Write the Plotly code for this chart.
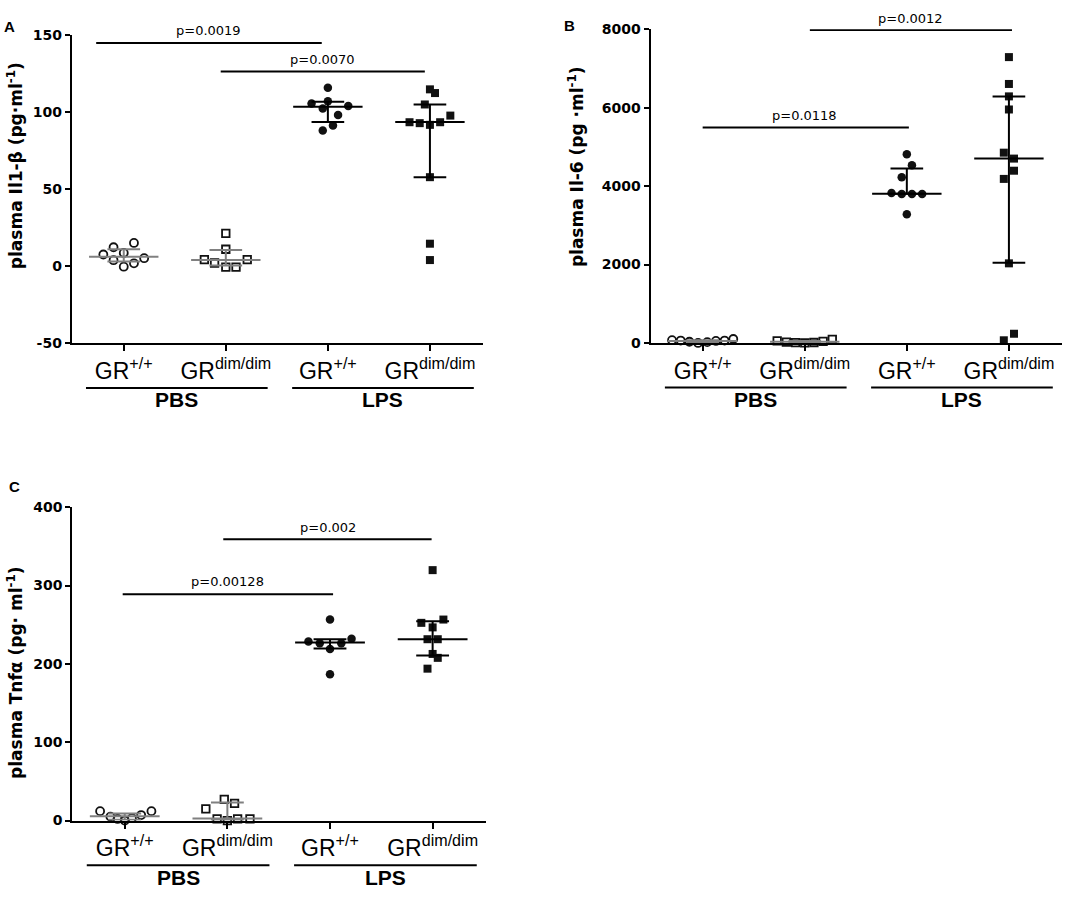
import plotly.graph_objects as go

W, H = 1084, 897

# categories on every panel
cats = [0, 1, 2, 3]
cat_labels = ["GR<sup>+/+</sup>", "GR<sup>dim/dim</sup>", "GR<sup>+/+</sup>", "GR<sup>dim/dim</sup>"]
treatments = ["PBS", "LPS"]

# panel A - plasma Il1-beta (pg/ml)
il1b_pbs_wt = [7.6, 12.3, 3.9, 8.6, -0.3, 15.1, 1.9, 5.2]
il1b_pbs_wt_jit = [-0.2, -0.1, -0.1, 0, 0, 0.1, 0.1, 0.2]
il1b_pbs_dim = [21.3, 11.0, 4.3, 2.1, -0.6, -0.6, 4.3]
il1b_pbs_dim_jit = [0, 0, -0.21, -0.11, 0, 0.1, 0.21]
il1b_lps_wt = [115.6, 105.4, 106.9, 102.2, 103.8, 98.0, 91.2, 88.0]
il1b_lps_wt_jit = [0, -0.16, 0, -0.05, 0.2, 0.1, 0.05, -0.05]
il1b_lps_dim = [114.6, 112.2, 104.8, 93.3, 92.7, 91.6, 93.3, 97.6, 57.7, 14.6, 4.0]
il1b_lps_dim_jit = [0, 0.05, -0.05, -0.2, -0.1, 0, 0.1, 0.2, 0, 0, 0]
il1b_median = [6.2, 4.0, 103.3, 93.5]
il1b_q1 = [3.0, 0.5, 93.5, 57.7]
il1b_q3 = [11.0, 10.5, 106.5, 104.8]
il1b_ticks = [-50, 0, 50, 100, 150]

# panel B - plasma Il-6 (pg/ml)
il6_pbs_wt = [70, 60, 30, 0, 20, 50, 60, 100]
il6_pbs_wt_jit = [-0.3, -0.215, -0.13, -0.045, 0.045, 0.13, 0.215, 0.3]
il6_pbs_dim = [50, 20, 5, 0, 10, 40, 90]
il6_pbs_dim_jit = [-0.27, -0.18, -0.09, 0, 0.09, 0.18, 0.27]
il6_lps_wt = [4811, 4535, 4226, 3825, 3800, 3800, 3800, 3282]
il6_lps_wt_jit = [0, 0.05, -0.05, -0.15, -0.05, 0.05, 0.15, 0]
il6_lps_dim = [7291, 6606, 6289, 5955, 4853, 4702, 4393, 4184, 2030, 234, 67]
il6_lps_dim_jit = [0, 0, 0, 0, -0.05, 0.05, 0.05, -0.05, 0, 0.05, -0.05]
il6_median = [50, 30, 3808, 4702]
il6_q1 = [20, 5, 3808, 2046]
il6_q3 = [65, 50, 4452, 6289]
il6_ticks = [0, 2000, 4000, 6000, 8000]

# panel C - plasma Tnf-alpha (pg/ml)
tnf_pbs_wt = [12, 5, 2, 0, 3, 7, 12]
tnf_pbs_wt_jit = [-0.24, -0.14, -0.07, 0, 0.07, 0.16, 0.26]
tnf_pbs_dim = [15, 27, 22, 2, 0, 2, 2]
tnf_pbs_dim_jit = [-0.21, -0.03, 0.07, -0.1, 0, 0.1, 0.22]
tnf_lps_wt = [256.6, 228.6, 226.5, 226.5, 232.0, 219.0, 186.8]
tnf_lps_wt_jit = [0, -0.21, -0.1, 0.11, 0.21, 0, 0]
tnf_lps_dim = [319.7, 252.4, 256.6, 246.6, 231.5, 231.5, 212.7, 207.7, 193.9]
tnf_lps_dim_jit = [0, -0.11, 0.105, 0, -0.05, 0.05, 0, 0.05, -0.05]
tnf_median = [5.5, 2.5, 227.3, 231.5]
tnf_q1 = [1.0, 1.0, 219.8, 210.6]
tnf_q3 = [9.0, 23.0, 231.5, 254.5]
tnf_ticks = [0, 100, 200, 300, 400]

# significance brackets: (x0, x1, y, label)
il1b_pvals = [(-0.27, 1.94, 144.7, "p=0.0019"), (0.95, 2.95, 126.2, "p=0.0070")]
il6_pvals = [(0.0, 2.02, 5496, "p=0.0118"), (1.05, 3.03, 7985, "p=0.0012")]
tnf_pvals = [(-0.02, 2.03, 289, "p=0.00128"), (0.96, 2.99, 359, "p=0.002")]
# where the p labels sit: (x in category units, y in page pixels)
il1b_ptext = [(0.83, 23), (1.95, 52)]
il6_ptext = [(1.0, 109), (2.04, 11)]
tnf_ptext = [(1.0, 584), (1.98, 529)]

BOLD = "DejaVu Sans"
SANS = "Liberation Sans"
GRAY = "#808080"


def px_x(px):
    return px / W


def px_y(py):
    return 1 - py / H


fig = go.Figure()


def add_panel(n, groups, med, q1, q3):
    xa = "x" if n == 1 else f"x{n}"
    ya = "y" if n == 1 else f"y{n}"
    symbols = ["circle-open", "square-open", "circle", "square"]
    sizes = [8, 7.5, 8.5, 8]
    for g, (vals, jit) in enumerate(groups):
        fig.add_trace(go.Scatter(
            x=[g + j for j in jit], y=vals, mode="markers", xaxis=xa, yaxis=ya,
            marker=dict(symbol=symbols[g], size=sizes[g], color="#111111",
                        line=dict(width=1.8 if g < 2 else 0, color="#111111")),
            cliponaxis=False, hoverinfo="y"))
    # median line + interquartile bar
    for g in cats:
        col = GRAY if g < 2 else "black"
        fig.add_trace(go.Scatter(
            x=[g - 0.34, g + 0.34, None, g - 0.16, g + 0.16, None, g - 0.16, g + 0.16, None, g, g],
            y=[med[g], med[g], None, q3[g], q3[g], None, q1[g], q1[g], None, q1[g], q3[g]],
            mode="lines", xaxis=xa, yaxis=ya, line=dict(color=col, width=2),
            cliponaxis=False, hoverinfo="skip"))


add_panel(1, [(il1b_pbs_wt, il1b_pbs_wt_jit), (il1b_pbs_dim, il1b_pbs_dim_jit),
              (il1b_lps_wt, il1b_lps_wt_jit), (il1b_lps_dim, il1b_lps_dim_jit)],
          il1b_median, il1b_q1, il1b_q3)
add_panel(2, [(il6_pbs_wt, il6_pbs_wt_jit), (il6_pbs_dim, il6_pbs_dim_jit),
              (il6_lps_wt, il6_lps_wt_jit), (il6_lps_dim, il6_lps_dim_jit)],
          il6_median, il6_q1, il6_q3)
add_panel(3, [(tnf_pbs_wt, tnf_pbs_wt_jit), (tnf_pbs_dim, tnf_pbs_dim_jit),
              (tnf_lps_wt, tnf_lps_wt_jit), (tnf_lps_dim, tnf_lps_dim_jit)],
          tnf_median, tnf_q1, tnf_q3)


def x_axis(dom, anchor):
    return dict(domain=dom, anchor=anchor, range=[-0.51, 3.52], showgrid=False, zeroline=False,
                showline=True, linecolor="black", linewidth=2, ticks="outside", ticklen=6,
                tickwidth=2, tickcolor="black", tickvals=cats, ticktext=cat_labels,
                tickfont=dict(family=SANS, size=23, color="black"), fixedrange=True)


def y_axis(dom, anchor, rng, tickvals):
    return dict(domain=dom, anchor=anchor, range=rng, showgrid=False, zeroline=False,
                showline=True, linecolor="black", linewidth=2, ticks="outside", ticklen=5,
                tickwidth=2, tickcolor="black", tickvals=tickvals,
                ticktext=[str(t) for t in tickvals],
                tickfont=dict(family=BOLD, size=14, color="black", weight="bold"), fixedrange=True)


fig.update_layout(
    width=W, height=H, margin=dict(l=0, r=0, t=0, b=0),
    paper_bgcolor="white", plot_bgcolor="white", showlegend=False,
    xaxis=x_axis([px_x(71.7), px_x(483)], "y"),
    yaxis=y_axis([px_y(341.5), px_y(27.2)], "x", [-50, 150], il1b_ticks),
    xaxis2=x_axis([px_x(650.6), px_x(1062)], "y2"),
    yaxis2=y_axis([px_y(341), px_y(21.7)], "x2", [0, 8000], il6_ticks),
    xaxis3=x_axis([px_x(72.4), px_x(486)], "y3"),
    yaxis3=y_axis([px_y(827.3), px_y(508.3)], "x3", [0, 400], tnf_ticks),
)

# brackets with p values
for n, pvals, ptext in [(1, il1b_pvals, il1b_ptext), (2, il6_pvals, il6_ptext),
                        (3, tnf_pvals, tnf_ptext)]:
    xa = "x" if n == 1 else f"x{n}"
    ya = "y" if n == 1 else f"y{n}"
    for (x0, x1, yv, label), (tx, ty) in zip(pvals, ptext):
        fig.add_shape(type="line", xref=xa, yref=ya, x0=x0, x1=x1, y0=yv, y1=yv,
                      line=dict(color="black", width=2))
        fig.add_annotation(xref=xa, yref="paper", x=tx, y=px_y(ty), text=label,
                           showarrow=False, yanchor="middle",
                           font=dict(family=BOLD, size=13, color="black"))

# treatment underlines and labels (PBS / LPS) below the genotype labels
group_lines = [(-0.37, 1.41), (1.65, 3.43)]
group_text_x = [0.52, 2.54]
for n, axis_px in [(1, 341.5), (2, 341), (3, 827.3)]:
    xa = "x" if n == 1 else f"x{n}"
    for (x0, x1), tx, label in zip(group_lines, group_text_x, treatments):
        fig.add_shape(type="line", xref=xa, yref="paper", x0=x0, x1=x1,
                      y0=px_y(axis_px + 45.5), y1=px_y(axis_px + 45.5),
                      line=dict(color="black", width=2))
        fig.add_annotation(xref=xa, yref="paper", x=tx, y=px_y(axis_px + 57.5), text=label,
                           showarrow=False, yanchor="middle",
                           font=dict(family=SANS, size=21, color="black", weight="bold"))

# y axis titles
y_titles = [("plasma Il1-β (pg·ml<sup>-1</sup>)", 15, 161),
            ("plasma Il-6 (pg ·ml<sup>-1</sup>)", 576, 162),
            ("plasma Tnfα (pg· ml<sup>-1</sup>)", 15, 677)]
for text, x, y in y_titles:
    fig.add_annotation(xref="paper", yref="paper", x=px_x(x), y=px_y(y), text=text,
                       textangle=-90, showarrow=False, xanchor="center", yanchor="middle",
                       font=dict(family=BOLD, size=17, color="black", weight="bold"))

# panel letters
for letter, x, y in [("A", 9, 19), ("B", 569, 18), ("C", 14, 487)]:
    fig.add_annotation(xref="paper", yref="paper", x=px_x(x), y=px_y(y), text=letter,
                       showarrow=False, xanchor="center", yanchor="middle",
                       font=dict(family=SANS, size=15, color="black", weight="bold"))

fig.write_html("out.html", config={"displayModeBar": False},
               post_script="document.body.style.margin='0px';")
